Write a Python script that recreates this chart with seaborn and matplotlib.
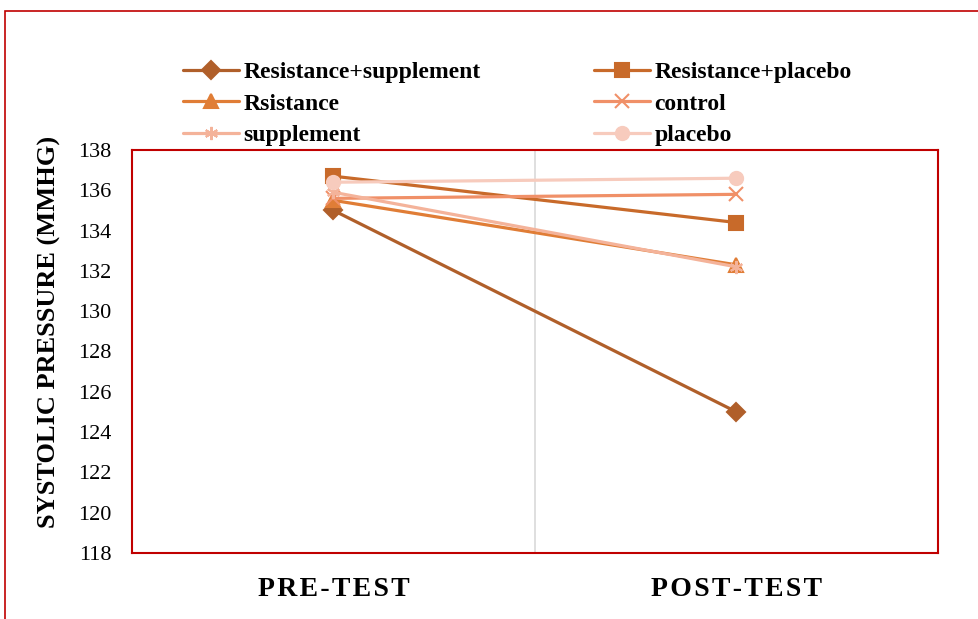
import pandas as pd
import matplotlib
matplotlib.use("Agg")
import matplotlib.pyplot as plt
import matplotlib.patches as mpatches
import seaborn as sns

# data
tests = ["PRE-TEST", "POST-TEST"]
groups = ["Resistance+supplement", "Resistance+placebo", "Rsistance",
          "control", "supplement", "placebo"]
pre_values = [135.0, 136.7, 135.5, 135.6, 135.9, 136.4]
post_values = [125.0, 134.4, 132.3, 135.8, 132.2, 136.6]
y_ticks = list(range(118, 139, 2))

colors = ["#B05F2A", "#C86A2A", "#E07D36", "#F09068", "#F4B39A", "#F7CBBD"]
markers = ["D", "s", "^", "x", (6, 2, 0), "o"]

rows = []
for g, a, b in zip(groups, pre_values, post_values):
    rows.append({"group": g, "test": 0, "value": a})
    rows.append({"group": g, "test": 1, "value": b})
df = pd.DataFrame(rows)

sns.set_style("white")
plt.rcParams["font.family"] = ["Liberation Serif", "DejaVu Serif"]
plt.rcParams["text.color"] = "black"
plt.rcParams["xtick.color"] = "black"
plt.rcParams["ytick.color"] = "black"
plt.rcParams["axes.labelcolor"] = "black"

fig = plt.figure(figsize=(9.79, 6.19), dpi=100)
ax = fig.add_axes([132 / 979, 1 - 553 / 619, (938 - 132) / 979, (553 - 150) / 619])

handles = []
for g, c, m in zip(groups, colors, markers):
    sub = df[df["group"] == g]
    sns.lineplot(data=sub, x="test", y="value", color=c, marker=m,
                 linewidth=2.3, markersize=9.5, markeredgewidth=1.5,
                 markeredgecolor=c, ax=ax, label=g, legend=False)
    handles.append(ax.lines[-1])

ax.axvline(0.5, color="#D9D9D9", linewidth=1.2, zorder=0)
ax.set_xlim(-0.5, 1.5)
ax.set_ylim(118, 138)
ax.set_yticks(y_ticks)
ax.set_yticklabels([str(t) for t in y_ticks], fontsize=16)
ax.set_xticks([0, 1])
spaced = ["\u200a".join(t) for t in tests]
ax.set_xticklabels(spaced, fontsize=20, fontweight="bold")
ax.tick_params(axis="x", pad=17, length=0)
ax.tick_params(axis="y", pad=15, length=0)
ax.set_xlabel("")
ax.set_ylabel("SYSTOLIC PRESSURE (MMHG)", fontsize=19, fontweight="bold")
ax.yaxis.set_label_coords(-0.088, 0.548)
for s in ax.spines.values():
    s.set_color("#C00000")
    s.set_linewidth(1.5)

order = [0, 2, 4, 1, 3, 5]
fig.legend([handles[i] for i in order], [groups[i] for i in order],
           ncol=2, loc="center", bbox_to_anchor=(0.5286, 0.832),
           frameon=False, handlelength=2.35, handletextpad=0.2,
           columnspacing=4.8, labelspacing=0.42,
           prop={"family": "Liberation Serif", "weight": "bold", "size": 17})

# outer chart border (cut off at right and bottom)
fig.patches.append(mpatches.Rectangle((5 / 979, -0.05), 1.1, 1 - 11 / 619 + 0.05,
                                      transform=fig.transFigure, fill=False,
                                      edgecolor="#C00000", linewidth=1.2))

fig.savefig("out.png", dpi=100)
